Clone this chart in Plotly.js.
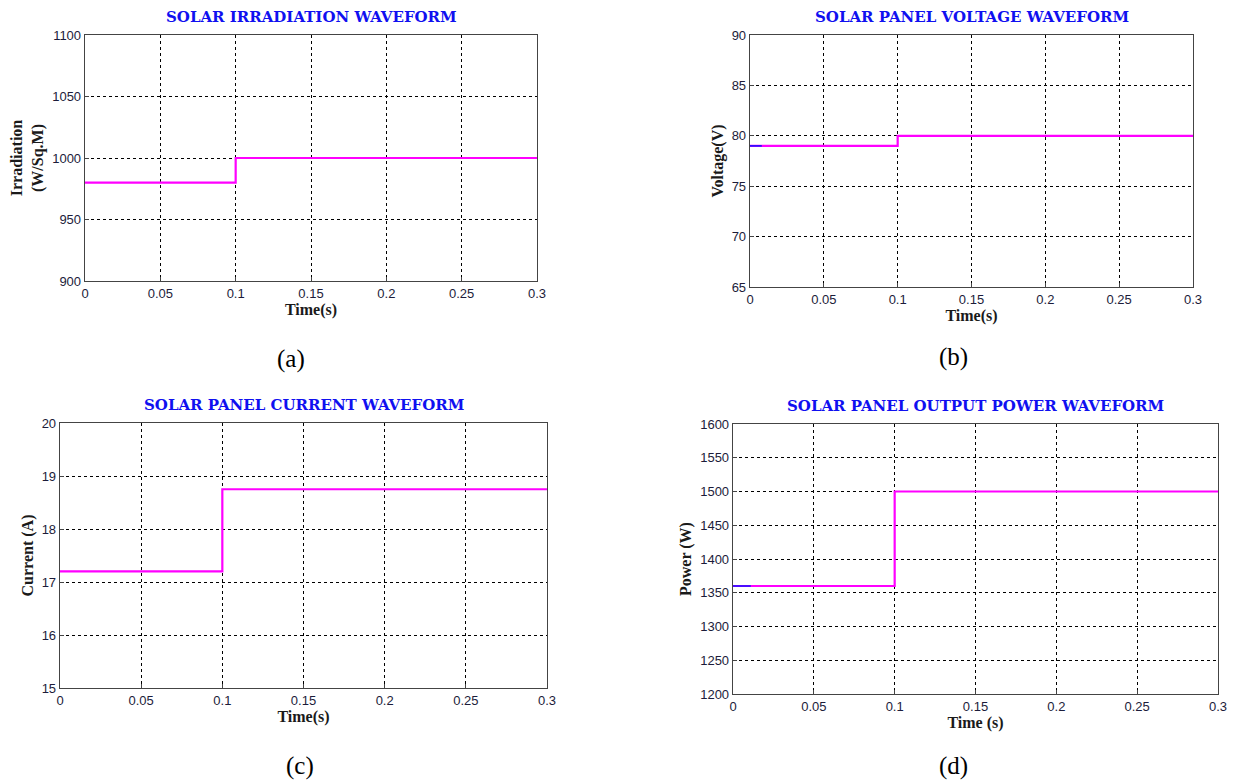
<!DOCTYPE html>
<html>
<head>
<meta charset="utf-8">
<script src="https://cdn.plot.ly/plotly-3.0.1.min.js"></script>
<style>html,body{margin:0;padding:0;background:#fff;}#chart{width:1237px;height:783px;}</style>
</head>
<body>
<div id="chart"></div>
<script>
// Time breakpoints (s)
const time = [0, 0.1, 0.3];
// Series values (step at t = 0.1 s)
const irradiation = [980, 1000, 1000];
const voltage = [79, 80, 80];
const current = [17.2, 18.75, 18.75];
const power = [1360, 1500, 1500];
// short blue initial traces visible under the magenta line
const voltageInitT = [0, 0.008];
const voltageInit = [79, 79];
const powerInitT = [0, 0.011];
const powerInit = [1360, 1360];

const titles = ["SOLAR IRRADIATION WAVEFORM", "SOLAR PANEL VOLTAGE WAVEFORM", "SOLAR PANEL CURRENT WAVEFORM", "SOLAR PANEL OUTPUT POWER WAVEFORM"];
const yTitles = ["Irradiation<br>(W/Sq.M)", "Voltage(V)", "Current (A)", "Power (W)"];
const xTitles = ["Time(s)", "Time(s)", "Time(s)", "Time (s)"];
const panelLabels = ["(a)", "(b)", "(c)", "(d)"];
const yRanges = [[900, 1100], [65, 90], [15, 20], [1200, 1600]];
const yDtick = [50, 5, 1, 50];

const W = 1237, H = 783;
// plot areas in pixels: [left, right, top, bottom]
const boxes = [[85, 537, 35, 281], [750, 1193, 35, 287], [60, 547, 423, 688], [733, 1218, 424, 694]];

const magenta = '#ff00ff';
const traces = [];
const series = [irradiation, voltage, current, power];
series.forEach((s, i) => {
  const sfx = i === 0 ? '' : String(i + 1);
  traces.push({x: time, y: s, mode: 'lines', line: {shape: 'hv', color: magenta, width: 2.2}, xaxis: 'x' + sfx, yaxis: 'y' + sfx, hoverinfo: 'skip'});
});
traces.push({x: voltageInitT, y: voltageInit, mode: 'lines', line: {color: '#1010ff', width: 1.5}, xaxis: 'x2', yaxis: 'y2'});
traces.push({x: powerInitT, y: powerInit, mode: 'lines', line: {color: '#1010ff', width: 1.5}, xaxis: 'x4', yaxis: 'y4'});

const layout = {
  width: W, height: H,
  margin: {l: 0, r: 0, t: 0, b: 0},
  showlegend: false,
  paper_bgcolor: '#fff', plot_bgcolor: '#fff',
  annotations: []
};
const tickFont = {family: 'Liberation Sans, Arial, sans-serif', size: 13, color: '#1c1c3a'};
const axTitleFont = {family: 'Liberation Serif, Times New Roman, serif', size: 16, color: '#1a1a1a', weight: 'bold'};
boxes.forEach((b, i) => {
  const sfx = i === 0 ? '' : String(i + 1);
  const common = {
    showline: true, mirror: true, linecolor: '#444', linewidth: 1.3,
    showgrid: true, gridcolor: '#000', griddash: '3px,3px', gridwidth: 1,
    zeroline: false, ticks: 'inside', ticklen: 4, tickcolor: '#444',
    tickfont: tickFont
  };
  layout['xaxis' + sfx] = Object.assign({}, common, {
    domain: [b[0] / W, b[1] / W], anchor: 'y' + sfx,
    range: [0, 0.3], dtick: 0.05, tick0: 0,
    title: {text: xTitles[i], font: axTitleFont, standoff: 0}
  });
  layout['yaxis' + sfx] = Object.assign({}, common, {
    domain: [1 - b[3] / H, 1 - b[2] / H], anchor: 'x' + sfx,
    range: yRanges[i], dtick: yDtick[i],
    title: {text: yTitles[i], font: axTitleFont, standoff: 4}
  });
  layout.annotations.push({
    text: titles[i], xref: 'paper', yref: 'paper',
    x: ((b[0] + b[1]) / 2) / W, y: 1 - (b[2] - 18) / H,
    showarrow: false, xanchor: 'center', yanchor: 'middle',
    font: {family: 'DejaVu Serif, serif', size: 15, color: '#1010f0', weight: 'bold'}
  });
});
const labelPos = [[291, 359], [953, 357], [300, 766], [953, 766]];
labelPos.forEach((p, i) => {
  layout.annotations.push({
    text: panelLabels[i], xref: 'paper', yref: 'paper',
    x: p[0] / W, y: 1 - p[1] / H, showarrow: false, xanchor: 'center', yanchor: 'middle',
    font: {family: 'Liberation Serif, Times New Roman, serif', size: 25, color: '#000'}
  });
});

Plotly.newPlot('chart', traces, layout, {staticPlot: true, displayModeBar: false});
</script>
</body>
</html>
